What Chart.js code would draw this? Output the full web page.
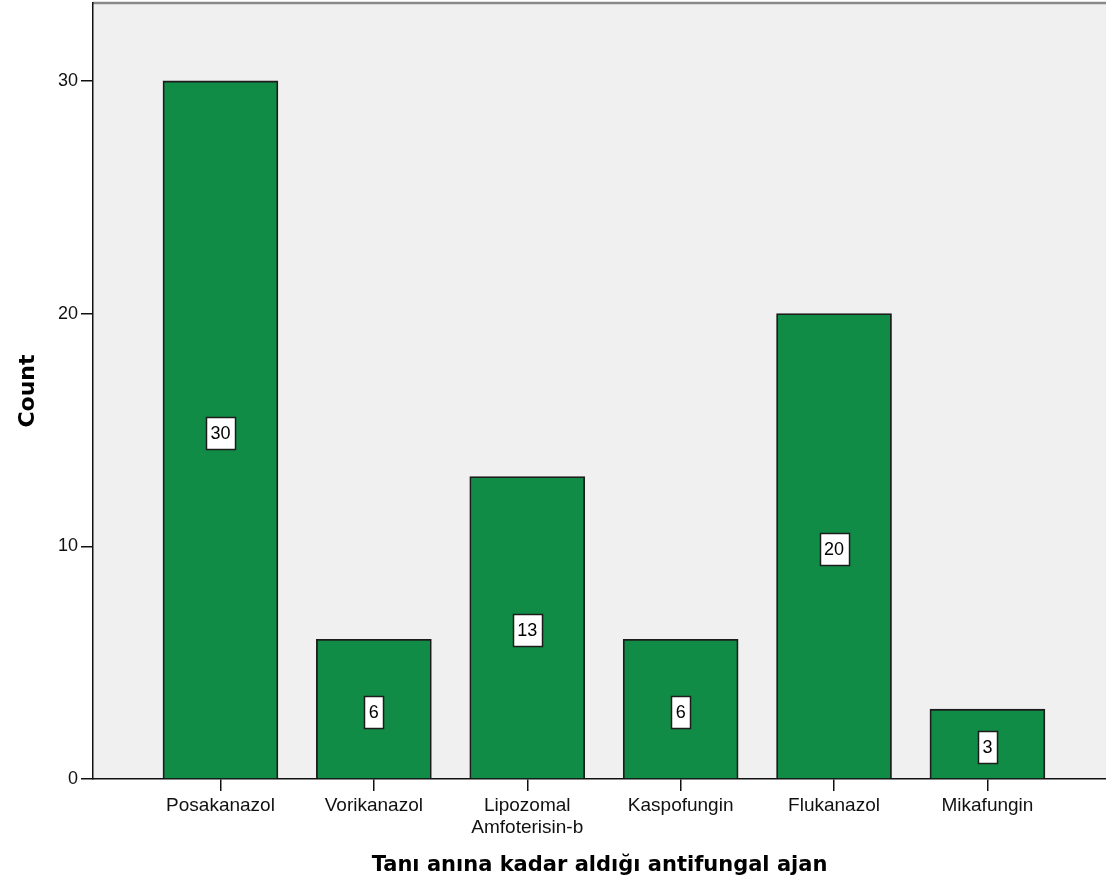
<!DOCTYPE html>
<html>
<head>
<meta charset="utf-8">
<title>Antifungal agents</title>
<script src="https://cdn.jsdelivr.net/npm/chart.js@4.4.1/dist/chart.umd.min.js"></script>
<style>
  html, body { margin: 0; padding: 0; background: #fff; }
  #wrap { width: 1106px; height: 886px; }
</style>
</head>
<body>
<div id="wrap"><canvas id="bars" width="1106" height="886"></canvas></div>
<script>
/* ── data ── */
const categories = ["Posakanazol", "Vorikanazol", ["Lipozomal", "Amfoterisin-b"], "Kaspofungin", "Flukanazol", "Mikafungin"];
const counts     = [30, 6, 13, 6, 20, 3];
const yTicks     = [0, 10, 20, 30];

const TICK_FONT  = "'Liberation Sans', Arial, sans-serif";
const TITLE_FONT = "'DejaVu Sans', Verdana, sans-serif";
const GREEN      = "#118c46";
const EDGE       = "#1c1c1c";

/* grey plot panel with the thin frame on top */
const panel = {
  id: "panel",
  beforeDraw(chart) {
    const { ctx, chartArea: a } = chart;
    ctx.save();
    ctx.fillStyle = "#f0f0f0";
    ctx.fillRect(a.left, a.top, a.right - a.left, a.bottom - a.top);
    ctx.strokeStyle = "#8a8a8a";
    ctx.lineWidth = 2.5;
    ctx.beginPath();
    ctx.moveTo(a.left, a.top);
    ctx.lineTo(a.right, a.top);
    ctx.stroke();
    ctx.restore();
  }
};

/* boxed value labels in the middle of each bar */
const valueBoxes = {
  id: "valueBoxes",
  afterDatasetsDraw(chart) {
    const { ctx } = chart;
    const meta = chart.getDatasetMeta(0);
    ctx.save();
    ctx.font = "18px " + TICK_FONT;
    ctx.textAlign = "center";
    ctx.textBaseline = "middle";
    meta.data.forEach((bar, i) => {
      const txt = String(counts[i]);
      const cy = (bar.y + bar.base) / 2 + 3;
      const w = ctx.measureText(txt).width + 9;
      const h = 32;
      const x0 = Math.round(bar.x - w / 2) + 0.5;
      const y0 = Math.round(cy - h / 2) + 0.5;
      ctx.fillStyle = "#ffffff";
      ctx.fillRect(x0, y0, w, h);
      ctx.strokeStyle = EDGE;
      ctx.lineWidth = 1.5;
      ctx.strokeRect(x0, y0, w, h);
      ctx.fillStyle = "#000";
      ctx.fillText(txt, bar.x, cy + 1);
    });
    ctx.restore();
  }
};

new Chart(document.getElementById("bars").getContext("2d"), {
  type: "bar",
  data: {
    datasets: [{
      data: counts.map((v, i) => ({ x: i, y: v })),
      backgroundColor: GREEN,
      borderColor: EDGE,
      borderWidth: 1.8,
      barThickness: 115
    }]
  },
  options: {
    responsive: false,
    animation: false,
    layout: { padding: { top: 3, right: 0, left: 0, bottom: 0 } },
    plugins: { legend: { display: false }, tooltip: { enabled: false } },
    scales: {
      x: {
        type: "linear",
        offset: false,
        min: -0.831,
        max: 5.773,
        afterBuildTicks: s => { s.ticks = categories.map((_, i) => ({ value: i })); },
        afterFit: s => { s.height = 107; s.paddingLeft = 0; s.paddingRight = 0; },
        ticks: {
          color: "#111",
          font: { family: TICK_FONT, size: 19 },
          padding: 3,
          maxRotation: 0,
          autoSkip: false,
          callback: v => categories[v]
        },
        grid: { drawOnChartArea: false, offset: false, tickLength: 12, color: "#111", lineWidth: 1.5 },
        border: { color: "#111", width: 1.5 },
        title: {
          display: true,
          text: "Tanı anına kadar aldığı antifungal ajan",
          color: "#000",
          font: { family: TITLE_FONT, size: 21, weight: "bold" },
          padding: { top: 0, bottom: 8 }
        }
      },
      y: {
        min: 0,
        max: 33.35,
        afterBuildTicks: s => { s.ticks = yTicks.map(v => ({ value: v })); },
        afterFit: s => { s.width = 93; s.paddingTop = 0; s.paddingBottom = 0; },
        ticks: {
          color: "#111",
          font: { family: TICK_FONT, size: 18 },
          padding: 3
        },
        grid: { drawOnChartArea: false, tickLength: 12, color: "#111", lineWidth: 1.5 },
        border: { color: "#111", width: 1.5 },
        title: {
          display: true,
          text: "Count",
          color: "#000",
          font: { family: TITLE_FONT, size: 22, weight: "bold" },
          padding: { top: 15, bottom: 0 }
        }
      }
    }
  },
  plugins: [panel, valueBoxes]
});
</script>
</body>
</html>
